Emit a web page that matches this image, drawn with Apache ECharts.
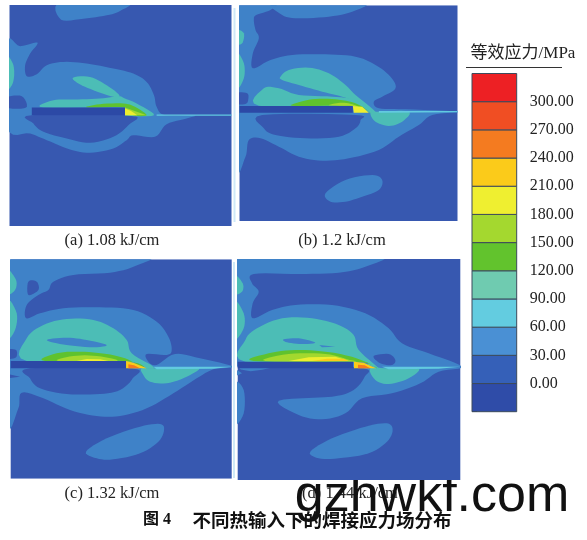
<!DOCTYPE html>
<html>
<head>
<meta charset="utf-8">
<style>html,body{margin:0;padding:0;background:#fff}#main{width:587px;height:540px}</style>
<script src="https://cdn.jsdelivr.net/npm/echarts@6/dist/echarts.min.js"></script>
</head>
<body>
<div id="main"></div>
<script>
// stress bands (lower bound, MPa) and their colours in the fields and on the colour bar
var bandLows = [-30, 0, 30, 60, 90, 120, 150, 180, 210, 240, 270, 300];
var bandColors = ['#2C49A6', '#3758B0', '#3F82C8', '#62CAE0', '#4CBDB6', '#5FC22E', '#A3D82E', '#EEEE2F', '#FBCB1A', '#F47B20', '#F04E23', '#ED2024'];
var barColors = ['#2F4CA8', '#3560B8', '#4A90D4', '#63CCE0', '#6FCBB0', '#62C32D', '#A4D82F', '#EFEF30', '#FBCB1A', '#F47B20', '#F04E23', '#ED2024'];
var tickValues = [0, 30, 60, 90, 120, 150, 180, 210, 240, 270, 300];

// contour outlines per panel, [band, points], units are the panel's own read-off scale
var rangeA = [28, 695, 14, 678];
var contoursA = [
	[0, [[28,14],[695,14],[695,678],[28,678]]],
	[30, [[183,4],[385,4],[360,32],[320,45],[250,55],[183,58]]],
	[30, [[20,130],[60,138],[112,127],[90,160],[75,195],[80,228],[110,222],[140,195],[190,185],[260,190],[340,205],[400,220],[440,245],[462,285],[470,320],[495,345],[585,345],[560,355],[500,372],[465,410],[400,405],[380,420],[340,445],[270,458],[210,448],[140,420],[90,400],[20,380]]],
	[0, [[20,292],[65,288],[78,322],[20,322]]],
	[0, [[95,345],[392,345],[385,375],[340,410],[270,428],[200,415],[130,395],[100,370]]],
	[60, [[470,343],[695,343],[695,347],[470,347]]],
	[90, [[18,170],[38,190],[42,225],[35,255],[18,265]]],
	[90, [[220,232],[270,230],[320,255],[358,285],[340,290],[280,270],[235,250]]],
	[90, [[130,322],[160,300],[220,298],[300,295],[355,288],[375,295],[410,310],[462,345],[375,345],[375,322]]],
	[120, [[260,322],[300,312],[370,310],[405,320],[440,345],[400,345],[375,322]]],
	[-30, [[95,322],[375,322],[375,345],[95,345]]],
	[150, [[375,322],[440,345],[375,345]]],
	[180, [[375,325],[392,332],[412,345],[375,345]]]
];

var rangeB = [22, 676, 16, 663];
var contoursB = [
	[0, [[22,16],[676,16],[676,663],[22,663]]],
	[30, [[130,6],[395,6],[360,35],[290,50],[200,55],[150,45]]],
	[30, [[10,6],[130,6],[115,30],[72,45],[65,60],[70,90],[80,115],[62,160],[62,205],[115,180],[180,165],[280,163],[370,170],[430,195],[475,230],[490,265],[450,290],[425,305],[440,325],[520,328],[680,335],[600,345],[560,375],[500,410],[440,450],[350,475],[270,482],[200,470],[140,440],[85,415],[50,420],[40,470],[10,490]]],
	[0, [[90,345],[370,345],[385,360],[370,385],[320,410],[220,415],[130,405],[95,385]]],
	[0, [[12,280],[45,280],[48,300],[40,312],[12,310]]],
	[30, [[280,580],[340,540],[420,525],[450,540],[440,570],[390,590],[340,605],[295,605]]],
	[90, [[12,90],[35,100],[30,130],[12,130]]],
	[90, [[12,160],[35,190],[35,235],[12,265]]],
	[90, [[145,230],[170,210],[230,203],[290,220],[340,255],[370,285],[430,335],[415,340],[375,310],[330,290],[270,275],[200,255],[150,240]]],
	[90, [[80,317],[95,265],[140,265],[200,285],[300,290],[370,300],[420,335],[360,318]]],
	[90, [[415,340],[440,335],[530,335],[510,365],[470,378],[430,365]]],
	[60, [[440,333],[676,333],[676,337],[440,338]]],
	[120, [[190,310],[240,298],[310,298],[370,310],[415,338],[365,318],[190,318]]],
	[150, [[290,316],[330,308],[365,314],[385,326],[362,318]]],
	[-30, [[22,318],[362,318],[362,338],[22,338]]],
	[180, [[362,318],[390,320],[410,338],[365,338]]]
];

var rangeC = [32, 695, 28, 686];
var contoursC = [
	[0, [[32,28],[695,28],[695,686],[32,686]]],
	[30, [[20,16],[435,16],[400,50],[330,68],[220,75],[160,95],[145,120],[115,135],[80,165],[78,205],[120,190],[190,175],[300,172],[400,180],[470,215],[505,260],[515,300],[500,315],[440,312],[445,335],[470,345],[525,312],[600,325],[700,350],[640,358],[590,385],[520,430],[440,475],[360,498],[290,498],[210,480],[130,445],[65,428],[55,475],[20,510]]],
	[0, [[85,95],[110,95],[115,120],[85,135]]],
	[0, [[22,300],[48,300],[48,322],[22,325]]],
	[0, [[90,355],[395,355],[398,385],[360,420],[300,432],[200,432],[120,415],[90,385]]],
	[0, [[22,372],[60,380],[22,385]]],
	[30, [[258,605],[320,565],[420,530],[480,522],[492,540],[475,575],[420,610],[340,628],[290,625]]],
	[90, [[22,60],[48,90],[45,120],[22,130]]],
	[90, [[22,150],[50,190],[45,240],[22,262]]],
	[90, [[80,265],[130,225],[200,207],[280,210],[340,235],[380,270],[395,310],[460,350],[440,355],[375,335],[80,333]]],
	[30, [[145,268],[200,263],[260,270],[320,285],[280,292],[200,285],[150,275]]],
	[90, [[425,355],[470,355],[595,352],[560,380],[500,400],[450,395],[430,375]]],
	[60, [[460,350],[695,350],[640,356],[470,358]]],
	[120, [[135,333],[170,310],[240,305],[320,312],[375,325],[415,345],[440,355],[375,333]]],
	[150, [[175,333],[220,318],[290,318],[350,333]]],
	[180, [[230,333],[260,327],[300,328],[325,333]]],
	[-30, [[32,333],[378,333],[378,355],[32,355]]],
	[210, [[378,333],[400,338],[440,355],[378,355]]],
	[240, [[385,343],[402,346],[420,355],[385,355]]]
];

var rangeD = [17, 685, 27, 690];
var contoursD = [
	[0, [[17,27],[685,27],[685,690],[17,690]]],
	[30, [[5,14],[440,14],[400,50],[320,68],[200,72],[65,72],[60,100],[80,125],[62,160],[62,205],[120,180],[190,165],[300,165],[400,190],[470,235],[510,280],[590,310],[690,350],[620,365],[565,400],[480,430],[390,445],[340,490],[270,508],[200,495],[140,452],[300,440],[365,420],[398,380],[395,355],[200,340],[5,340]]],
	[30, [[7,400],[35,420],[35,490],[7,520]]],
	[30, [[7,355],[30,370],[7,380]]],
	[0, [[425,318],[470,312],[490,330],[480,345],[445,340]]],
	[30, [[235,605],[300,565],[400,530],[465,520],[482,540],[465,575],[410,610],[320,625],[260,625]]],
	[90, [[7,75],[32,100],[30,125],[7,130]]],
	[90, [[7,155],[35,190],[35,235],[7,265]]],
	[90, [[40,270],[75,235],[150,205],[240,205],[320,225],[365,255],[380,300],[440,355],[410,345],[370,335],[40,335]]],
	[30, [[155,268],[200,265],[250,278],[210,282],[165,277]]],
	[30, [[262,285],[310,290],[270,292]]],
	[90, [[415,355],[470,355],[560,355],[530,385],[470,402],[430,390]]],
	[60, [[450,350],[685,350],[620,356],[470,358]]],
	[120, [[65,333],[110,310],[190,300],[280,305],[350,318],[400,335],[435,355],[370,335]]],
	[150, [[100,333],[170,312],[280,312],[345,328],[355,335]]],
	[180, [[170,333],[230,322],[310,320],[350,333]]],
	[210, [[240,333],[285,326],[335,326],[350,333]]],
	[-30, [[17,335],[363,335],[363,355],[17,355]]],
	[210, [[366,335],[395,338],[432,355],[366,355]]],
	[240, [[378,344],[398,346],[415,355],[378,355]]]
];

var panels = [
	{range: rangeA, contours: contoursA, rect: [9.5, 5, 222, 221]},
	{range: rangeB, contours: contoursB, rect: [239.5, 5.3, 218, 215.7]},
	{range: rangeC, contours: contoursC, rect: [10.7, 259.3, 221, 219.4]},
	{range: rangeD, contours: contoursD, rect: [237.7, 259, 222.6, 221]}
];

function bandColor(low) {
	return bandColors[bandLows.indexOf(low)];
}

// round an outline off with a closed catmull-rom curve
function rounded(pts) {
	var out = [], n = pts.length;
	for (var i = 0; i < n; i++) {
		var p0 = pts[(i - 1 + n) % n], p1 = pts[i], p2 = pts[(i + 1) % n], p3 = pts[(i + 2) % n];
		for (var s = 0; s < 6; s++) {
			var t = s / 6, t2 = t * t, t3 = t2 * t;
			out.push([0, 1].map(function (d) {
				return 0.5 * (2 * p1[d] + (p2[d] - p0[d]) * t + (2 * p0[d] - 5 * p1[d] + 4 * p2[d] - p3[d]) * t2 + (3 * p1[d] - p0[d] - 3 * p2[d] + p3[d]) * t3);
			}));
		}
	}
	return out;
}

// the backdrop, the weld slab, the thin seam and the hot wedges keep their corners
function keepsCorners(c, k) {
	return k === 0 || c[1].length === 3 || c[0] === -30 || c[0] === 60 || c[0] >= 180;
}

var grids = [], xAxes = [], yAxes = [], series = [];

panels.forEach(function (p, i) {
	grids.push({left: p.rect[0], top: p.rect[1], width: p.rect[2], height: p.rect[3]});
	xAxes.push({type: 'value', gridIndex: i, min: p.range[0], max: p.range[1], show: false});
	yAxes.push({type: 'value', gridIndex: i, min: p.range[2], max: p.range[3], inverse: true, show: false});
	series.push({
		type: 'custom',
		xAxisIndex: i,
		yAxisIndex: i,
		silent: true,
		clip: true,
		data: p.contours.map(function (c, k) { return [k]; }),
		renderItem: function (params, api) {
			var c = p.contours[params.dataIndex];
			var pts = keepsCorners(c, params.dataIndex) ? c[1] : rounded(c[1]);
			return {
				type: 'polygon',
				shape: {points: pts.map(function (pt) { return api.coord(pt); })},
				style: {fill: bandColor(c[0])}
			};
		}
	});
});

// colour bar
grids.push({left: 472, top: 73.5, width: 44.7, height: 338.2});
xAxes.push({type: 'value', gridIndex: 4, min: 0, max: 1, show: false});
yAxes.push({
	type: 'value',
	gridIndex: 4,
	position: 'right',
	min: -30,
	max: 330,
	interval: 30,
	splitLine: {show: false},
	axisLine: {show: false},
	axisTick: {length: 5, lineStyle: {color: '#555', width: 1}},
	axisLabel: {
		margin: 13,
		color: '#222',
		fontFamily: 'Liberation Serif',
		fontSize: 16,
		formatter: function (v) {
			return tickValues.indexOf(v) >= 0 ? v.toFixed(2) : '';
		}
	}
});
series.push({
	type: 'custom',
	xAxisIndex: 4,
	yAxisIndex: 4,
	silent: true,
	data: bandLows.map(function (low) { return [0, low, 1, low + 30]; }),
	renderItem: function (params, api) {
		var a = api.coord([api.value(0), api.value(3)]);
		var b = api.coord([api.value(2), api.value(1)]);
		return {
			type: 'rect',
			shape: {x: a[0], y: a[1], width: b[0] - a[0], height: b[1] - a[1]},
			style: {fill: barColors[params.dataIndex], stroke: '#3c4a5c', lineWidth: 1}
		};
	}
});

function label(x, y, text, size, extra) {
	return {
		type: 'text',
		x: x,
		y: y,
		style: Object.assign({
			text: text,
			fill: '#222',
			font: size + 'px "Liberation Serif"',
			align: 'center',
			verticalAlign: 'middle'
		}, extra || {})
	};
}

var chart = echarts.init(document.getElementById('main'), null, {renderer: 'canvas'});
chart.setOption({
	animation: false,
	backgroundColor: '#fff',
	grid: grids,
	xAxis: xAxes,
	yAxis: yAxes,
	series: series,
	graphic: [
		label(178, 83, 'TC4', 16, {fill: '#fff'}),
		label(112, 241, '(a) 1.08 kJ/cm', 16.5),
		label(342, 241, '(b) 1.2 kJ/cm', 16.5),
		label(112, 494, '(c) 1.32 kJ/cm', 16.5),
		label(350, 494, '(d) 1.44 kJ/cm', 16.5),
		label(523, 54, '等效应力/MPa', 17, {font: '17px "Liberation Serif","Noto Sans CJK SC"'}),
		{type: 'line', shape: {x1: 466, y1: 67.5, x2: 562, y2: 67.5}, style: {stroke: '#333', lineWidth: 1}},
		{type: 'line', shape: {x1: 234.5, y1: 8, x2: 234.5, y2: 222}, style: {stroke: '#CFE9F7', lineWidth: 2}},
		{type: 'line', shape: {x1: 234, y1: 262, x2: 234, y2: 478}, style: {stroke: '#CFE9F7', lineWidth: 2}},
		label(432, 497, 'gzhwkf.com', 52, {fill: '#111', font: '52px "Liberation Sans"'}),
		label(157, 520, '图 4', 16, {fill: '#111', font: 'bold 16px "Liberation Serif","Noto Sans CJK SC"'}),
		label(322, 520, '不同热输入下的焊接应力场分布', 18, {fill: '#111', font: 'bold 18.5px "Noto Sans CJK SC"'})
	]
});
</script>
</body>
</html>
